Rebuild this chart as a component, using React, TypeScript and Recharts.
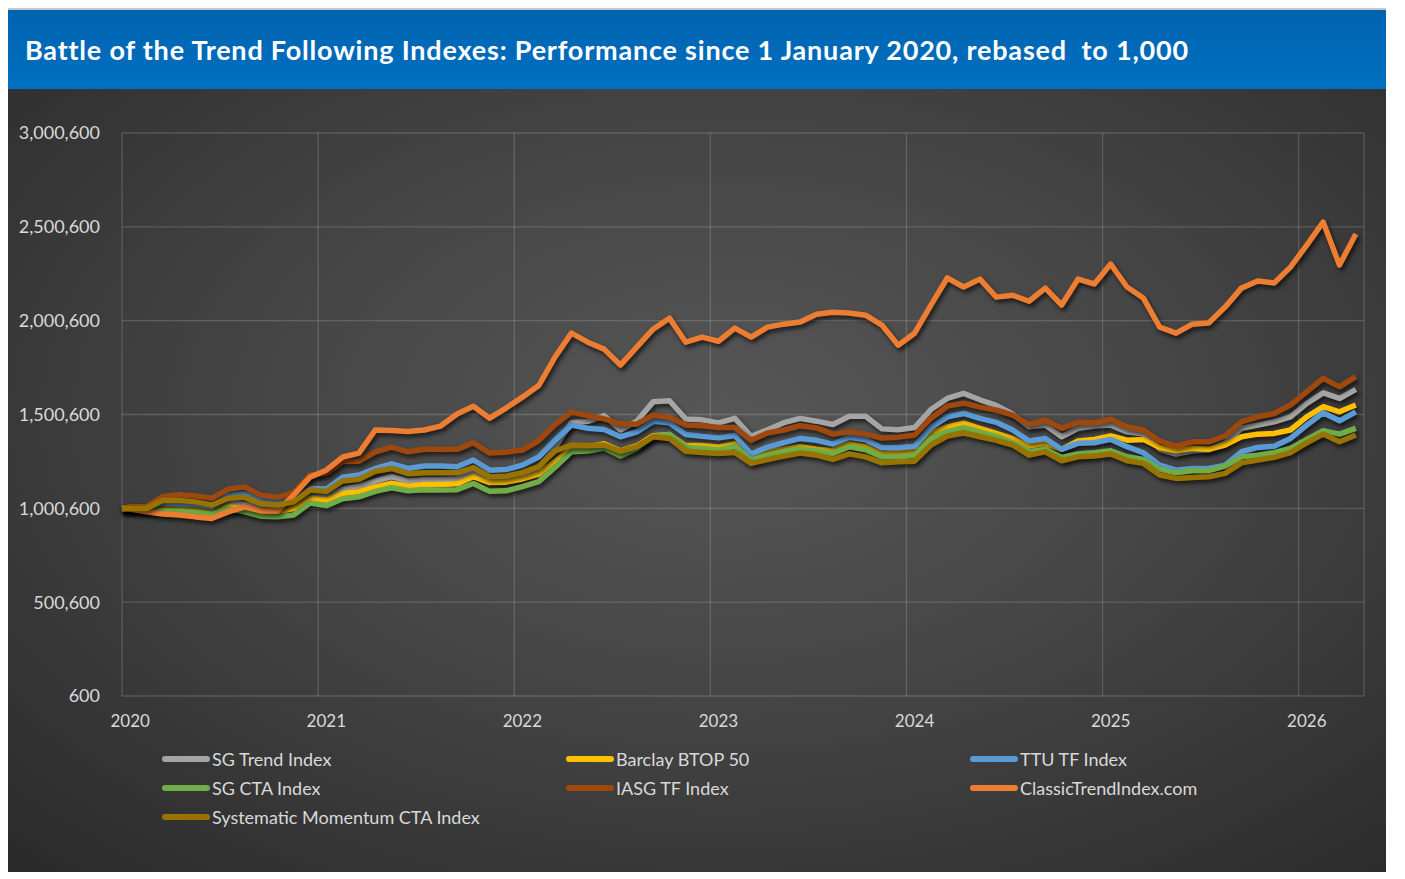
import React from "react";
import { LineChart, Line, XAxis, YAxis, CartesianGrid } from "recharts";

// Monthly observations, Jan 2020 .. Apr 2026
const MONTHS = Array.from({ length: 76 }, (_, i) => `${2020 + Math.floor(i / 12)}-${String((i % 12) + 1).padStart(2, "0")}`);

const BASE_VALUE = 1000; // 1 January 2020

const YEAR_TICKS = [0, 12, 24, 36, 48, 60, 72];
const YEAR_LABELS = ["2020", "2021", "2022", "2023", "2024", "2025", "2026"];

const Y_TICKS = [0.6, 500.6, 1000.6, 1500.6, 2000.6, 2500.6, 3000.6];
const Y_LABELS = ["600", "500,600", "1,000,600", "1,500,600", "2,000,600", "2,500,600", "3,000,600"];

const SG_TREND = [1002, 1000, 1015, 1015, 1010, 998, 1031, 1023, 1007, 1002, 1018, 1066, 1064, 1103, 1119, 1146, 1169, 1146, 1153, 1153, 1157, 1195, 1151, 1151, 1169, 1213, 1327, 1457, 1464, 1495, 1418, 1465, 1568, 1574, 1477, 1472, 1456, 1480, 1384, 1419, 1457, 1480, 1465, 1447, 1491, 1491, 1424, 1419, 1431, 1527, 1586, 1613, 1579, 1549, 1503, 1435, 1444, 1382, 1427, 1439, 1444, 1408, 1396, 1315, 1290, 1307, 1311, 1347, 1427, 1444, 1462, 1488, 1560, 1616, 1586, 1634];
const BARCLAY = [997, 997, 1005, 1007, 1002, 991, 1009, 1000, 986, 982, 1000, 1054, 1044, 1080, 1089, 1115, 1135, 1119, 1127, 1127, 1131, 1169, 1138, 1140, 1157, 1183, 1252, 1317, 1329, 1345, 1307, 1333, 1388, 1394, 1335, 1335, 1327, 1345, 1269, 1302, 1316, 1329, 1315, 1308, 1344, 1329, 1289, 1302, 1306, 1402, 1435, 1455, 1427, 1400, 1373, 1332, 1347, 1315, 1360, 1368, 1386, 1364, 1368, 1325, 1307, 1320, 1315, 1338, 1382, 1396, 1400, 1418, 1488, 1542, 1515, 1551];
const TTU = [1007, 1007, 1028, 1026, 1023, 1009, 1071, 1080, 1044, 1030, 1052, 1106, 1103, 1167, 1178, 1213, 1238, 1213, 1226, 1226, 1222, 1258, 1204, 1207, 1231, 1274, 1364, 1444, 1427, 1421, 1382, 1408, 1464, 1456, 1394, 1384, 1376, 1389, 1290, 1327, 1351, 1373, 1363, 1343, 1379, 1366, 1323, 1324, 1331, 1431, 1488, 1506, 1480, 1459, 1418, 1360, 1373, 1315, 1347, 1350, 1368, 1329, 1297, 1231, 1204, 1213, 1213, 1231, 1302, 1325, 1332, 1373, 1444, 1510, 1467, 1515];
const SG_CTA = [997, 991, 986, 985, 979, 970, 998, 982, 959, 956, 965, 1029, 1015, 1052, 1062, 1091, 1110, 1094, 1100, 1098, 1100, 1133, 1091, 1094, 1116, 1143, 1220, 1302, 1306, 1322, 1279, 1320, 1384, 1394, 1326, 1320, 1311, 1331, 1259, 1284, 1303, 1315, 1305, 1293, 1329, 1313, 1274, 1275, 1282, 1370, 1411, 1431, 1406, 1384, 1350, 1302, 1315, 1272, 1290, 1297, 1307, 1275, 1261, 1208, 1190, 1201, 1201, 1226, 1275, 1284, 1297, 1320, 1368, 1414, 1396, 1427];
const IASG = [1009, 1009, 1064, 1073, 1066, 1054, 1103, 1114, 1071, 1059, 1084, 1178, 1188, 1250, 1252, 1302, 1327, 1302, 1315, 1315, 1315, 1350, 1295, 1300, 1311, 1362, 1447, 1513, 1495, 1477, 1451, 1449, 1497, 1484, 1444, 1441, 1431, 1431, 1363, 1402, 1418, 1441, 1429, 1396, 1408, 1396, 1375, 1380, 1391, 1481, 1545, 1561, 1540, 1524, 1497, 1448, 1471, 1427, 1459, 1456, 1475, 1435, 1418, 1360, 1332, 1355, 1355, 1386, 1462, 1488, 1506, 1551, 1622, 1693, 1648, 1702];
const CLASSIC = [997, 982, 970, 965, 955, 947, 982, 1009, 987, 986, 1071, 1167, 1204, 1274, 1295, 1418, 1415, 1410, 1418, 1439, 1503, 1545, 1481, 1535, 1593, 1655, 1807, 1934, 1886, 1849, 1764, 1860, 1955, 2014, 1886, 1913, 1891, 1961, 1913, 1966, 1982, 1993, 2035, 2046, 2041, 2030, 1977, 1870, 1934, 2084, 2228, 2180, 2222, 2126, 2136, 2104, 2174, 2084, 2222, 2196, 2302, 2180, 2121, 1966, 1934, 1982, 1988, 2073, 2174, 2212, 2201, 2286, 2403, 2526, 2297, 2462];
const SYSTEMATIC = [1000, 1000, 1044, 1043, 1035, 1018, 1054, 1059, 1025, 1018, 1035, 1098, 1091, 1146, 1156, 1198, 1213, 1185, 1190, 1190, 1190, 1217, 1169, 1172, 1191, 1223, 1306, 1338, 1335, 1338, 1305, 1329, 1382, 1373, 1305, 1298, 1293, 1298, 1240, 1261, 1279, 1295, 1284, 1261, 1291, 1275, 1243, 1249, 1252, 1338, 1386, 1402, 1382, 1363, 1338, 1284, 1302, 1254, 1275, 1279, 1290, 1254, 1240, 1178, 1160, 1165, 1169, 1187, 1243, 1258, 1272, 1297, 1350, 1396, 1355, 1391];

const SERIES = [
  { key: "sgTrend", name: "SG Trend Index", color: "#a5a5a5", values: SG_TREND },
  { key: "barclay", name: "Barclay BTOP 50", color: "#ffc000", values: BARCLAY },
  { key: "ttu", name: "TTU TF Index", color: "#5b9bd5", values: TTU },
  { key: "sgCta", name: "SG CTA Index", color: "#70ad47", values: SG_CTA },
  { key: "iasg", name: "IASG TF Index", color: "#9e480e", values: IASG },
  { key: "classic", name: "ClassicTrendIndex.com", color: "#ed7d31", values: CLASSIC },
  { key: "systematic", name: "Systematic Momentum CTA Index", color: "#997300", values: SYSTEMATIC },
];

const baseRow: Record<string, number | string> = { x: 0, month: "start" };
SERIES.forEach((s) => (baseRow[s.key] = BASE_VALUE));
const data = [
  baseRow,
  ...MONTHS.map((m, i) => {
    const row: Record<string, number | string> = { x: i + 0.5, month: m };
    SERIES.forEach((s) => (row[s.key] = s.values[i]));
    return row;
  }),
];

const FONT = "Lato, 'Noto Sans', sans-serif";
const TEXT = "#d9d9d9";
const W = 1378;
const H = 783;
// bottom margin excludes the 30px the x axis reserves itself
const MARGIN = { top: 44, right: 22, bottom: 146, left: 0 };
const Y_AXIS_W = 114;
const PLOT_W = W - MARGIN.left - MARGIN.right - Y_AXIS_W;
const HALF_MONTH = PLOT_W / MONTHS.length / 2;

const YearTick = ({ x, y, payload }: any) => (
  <text x={x + HALF_MONTH} y={y} dy="0.71em" textAnchor="middle" fill={TEXT} fontSize={17} fontFamily={FONT}>
    {YEAR_LABELS[YEAR_TICKS.indexOf(payload.value)]}
  </text>
);

export default function App() {
  return (
    <div style={{ width: W, fontFamily: FONT }}>
      <style>{`.recharts-line-curve { filter: drop-shadow(2px 3px 2px rgba(0,0,0,0.65)); }`}</style>
      <div
        style={{
          height: 81,
          borderTop: "2px solid #c8c8c8",
          background: "linear-gradient(180deg, #0063b0 0%, #0070c0 100%)",
          color: "#fff",
          fontWeight: 700,
          fontSize: 27,
          letterSpacing: 0.8,
          display: "flex",
          alignItems: "center",
          paddingLeft: 17,
          boxSizing: "border-box",
        }}
      >
        Battle of the Trend Following Indexes: Performance since 1 January 2020, rebased&nbsp; to 1,000
      </div>
      <div
        style={{
          position: "relative",
          width: W,
          height: H,
          background: "radial-gradient(ellipse 75% 80% at 52% 42%, #575757 0%, #454545 45%, #2a2a2a 100%)",
        }}
      >
        <LineChart width={W} height={H} data={data} margin={MARGIN}>
          <CartesianGrid stroke="rgba(255,255,255,0.16)" strokeWidth={1.3} />
          <XAxis
            dataKey="x"
            type="number"
            domain={[0, MONTHS.length]}
            ticks={YEAR_TICKS}
            interval={0}
            tick={<YearTick />}
            tickLine={false}
            axisLine={false}
            tickMargin={13}
          />
          <YAxis
            type="number"
            domain={[Y_TICKS[0], Y_TICKS[Y_TICKS.length - 1]]}
            ticks={Y_TICKS}
            interval={0}
            width={Y_AXIS_W}
            tickLine={false}
            axisLine={false}
            tickMargin={16}
            tick={{ fill: TEXT, fontSize: 18, fontFamily: FONT }}
            tickFormatter={(v: number) => Y_LABELS[Y_TICKS.indexOf(v)] ?? String(v)}
          />
          {SERIES.map((s) => (
            <Line
              key={s.key}
              type="linear"
              dataKey={s.key}
              name={s.name}
              stroke={s.color}
              strokeWidth={5.5}
              strokeLinejoin="round"
              dot={false}
              activeDot={false}
              isAnimationActive={false}
            />
          ))}
        </LineChart>
        <div
          style={{
            position: "absolute",
            left: 154,
            top: 656,
            width: 1212,
            display: "grid",
            gridTemplateColumns: "404px 404px 404px",
          }}
        >
          {SERIES.map((s) => (
            <div key={s.key} style={{ display: "flex", alignItems: "center", height: 28.8 }}>
              <span style={{ width: 48, height: 6, borderRadius: 3, background: s.color, marginRight: 2 }} />
              <span style={{ color: TEXT, fontSize: 18, whiteSpace: "nowrap" }}>{s.name}</span>
            </div>
          ))}
        </div>
      </div>
    </div>
  );
}
